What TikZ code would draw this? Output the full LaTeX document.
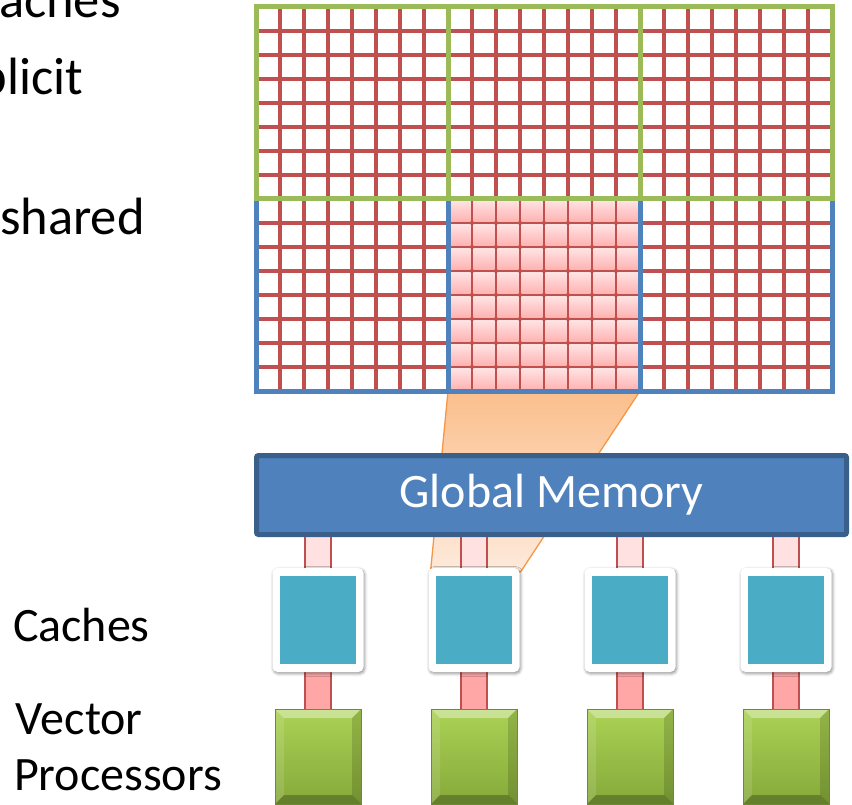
\documentclass[tikz,border=0pt]{standalone}
\usepackage{fontspec}
\setmainfont{Carlito}
\usetikzlibrary{calc,shadows.blur}
\pgfdeclarelayer{beam}
\pgfdeclarelayer{bus}
\pgfsetlayers{beam,bus,main}

\definecolor{gridred}{HTML}{C0504D}
\definecolor{gridgreen}{HTML}{9BBB59}
\definecolor{gridblue}{HTML}{4F81BD}
\definecolor{pinktop}{HTML}{FFE3E3}
\definecolor{pinkbot}{HTML}{FFB2B2}
\definecolor{memfill}{HTML}{4F81BD}
\definecolor{memdraw}{HTML}{3A5F8B}
\definecolor{cachefill}{HTML}{4BACC6}
\definecolor{busup}{HTML}{FFE1E2}
\definecolor{buslow}{HTML}{FFA7A7}
\definecolor{beamtop}{HTML}{FBBF8C}
\definecolor{beambot}{HTML}{FDEADC}
\definecolor{beamdraw}{HTML}{F79646}
\definecolor{procA}{HTML}{ABD254}
\definecolor{procB}{HTML}{86A93A}
\definecolor{procedge}{HTML}{6F8A35}

\tikzset{
  labeltext/.style={anchor=base west, inner sep=0pt, outer sep=0pt, text=black},
  bigtext/.style={labeltext, font=\fontsize{52.5}{63}\selectfont},
  smalltext/.style={labeltext, font=\fontsize{48}{58}\selectfont},
  lattice/.style={draw=gridred, line width=4pt},
  framegreen/.style={draw=gridgreen, line width=5pt},
  frameblue/.style={draw=gridblue, line width=5pt},
  membox/.style={fill=memfill, draw=memdraw, line width=5pt, rounded corners=2pt,
    minimum width=590pt, minimum height=79pt, inner sep=0pt, outer sep=0pt,
    text=white, font=\fontsize{48}{58}\selectfont},
  cachebox/.style={fill=white, rounded corners=5pt, minimum width=91pt, minimum height=104pt,
    inner sep=0pt, outer sep=0pt,
    blur shadow={shadow xshift=1pt, shadow yshift=-1.5pt, shadow blur radius=3pt, shadow opacity=45}},
  cachecore/.style={fill=cachefill, minimum width=76pt, minimum height=88pt, inner sep=0pt, outer sep=0pt},
  procbox/.style={top color=procA, bottom color=procB, draw=procedge, line width=1pt,
    minimum width=86pt, minimum height=95pt, inner sep=0pt, outer sep=0pt},
  busbar/.style={draw=gridred, line width=1.3pt},
}

\begin{document}
\begin{tikzpicture}[x=1pt,y=-1pt]
\useasboundingbox (0,0) rectangle (852,805);
\clip (0,0) rectangle (852,805);

% text on the left
\node[bigtext] (t1) at (-1,18) {aches};
\node[bigtext] (t2) at (-20,95) {plicit};
\node[bigtext] (t3) at (0,235) {shared};
\node[smalltext] (t4) at (13,641) {Caches};
\node[smalltext] (t5) at (16,734) {Vector};
\node[smalltext] (t6) at (14,790) {Processors};

% red lattice of the 24 x 16 cell array
\foreach \i in {1,...,23}
  \draw[lattice] (256+24*\i,7) -- (256+24*\i,391);
\foreach \j in {1,...,15}
  \draw[lattice] (256,7+24*\j) -- (832,7+24*\j);

% highlighted block: shaded pink cells
\foreach \i in {0,...,7}
  \foreach \j in {0,...,7}
    \shade[top color=pinktop, bottom color=pinkbot]
      (449.3+24*\i,200.3+24*\j) rectangle (470.7+24*\i,221.7+24*\j);

% block frames
\draw[frameblue] (256,199) rectangle (832,391) (448,199) -- (448,391) (640,199) -- (640,391);
\draw[framegreen] (256,7) rectangle (832,199) (448,7) -- (448,199) (640,7) -- (640,199);
\coordinate (blkL) at (448,391);
\coordinate (blkR) at (640,391);

% global memory
\node[membox] (gm) at (551.5,495) {Global Memory};

% caches and vector processors
\foreach \cx [count=\k] in {318,474,630,786} {
  \node[cachebox] (c\k) at (\cx,620) {};
  \node[cachecore] (c\k core) at (c\k.center) {};
  \node[procbox] (p\k) at (\cx,756.5) {};
  \fill[white, opacity=.38] (p\k.north west) -- (p\k.north east)
    -- ($(p\k.north east)+(-9,9)$) -- ($(p\k.north west)+(9,9)$) -- cycle;
  \fill[white, opacity=.12] (p\k.north west) -- ($(p\k.north west)+(9,9)$)
    -- ($(p\k.south west)+(9,-9)$) -- (p\k.south west) -- cycle;
  \fill[black, opacity=.14] (p\k.north east) -- ($(p\k.north east)+(-9,9)$)
    -- ($(p\k.south east)+(-9,-9)$) -- (p\k.south east) -- cycle;
  \fill[black, opacity=.25] (p\k.south west) -- ($(p\k.south west)+(9,-9)$)
    -- ($(p\k.south east)+(-9,-9)$) -- (p\k.south east) -- cycle;
  \draw[procedge, line width=1pt] (p\k.north west) rectangle (p\k.south east);
}

% links between memory, caches and processors
\begin{pgfonlayer}{bus}
\foreach \k in {1,...,4} {
  \draw[busbar, fill=busup] ($(c\k.north)+(-13,2)$) rectangle ($(gm.south -| c\k.north)+(13,-2)$);
  \draw[busbar, fill=buslow] ($(c\k.south)+(-13,-2)$) rectangle ($(p\k.north)+(13,2)$);
}
\end{pgfonlayer}

% projection of the highlighted block onto the second cache
\begin{pgfonlayer}{beam}
\draw[draw=beamdraw, line width=1.3pt, top color=beamtop, bottom color=beambot]
  (blkL) -- (blkR) -- ($(c2.north east)+(1,4)$) -- ($(c2.north west)+(2,4)$) -- cycle;
\end{pgfonlayer}
\end{tikzpicture}
\end{document}
